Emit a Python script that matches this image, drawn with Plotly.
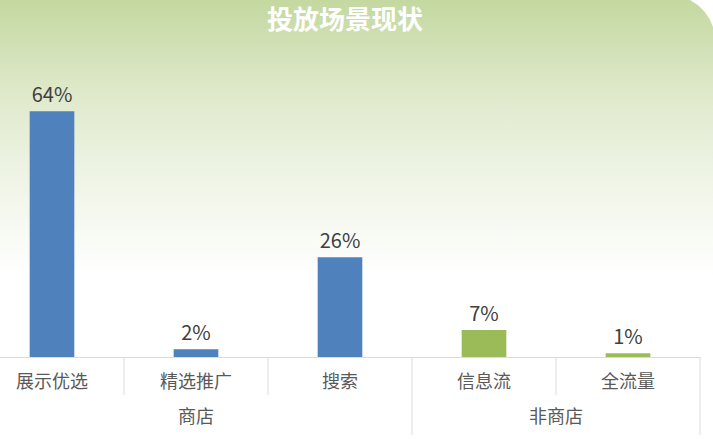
import base64
import plotly.graph_objects as go

# data
categories = ['展示优选', '精选推广', '搜索', '信息流', '全流量']
groups = ['商店', '商店', '商店', '非商店', '非商店']
shares = [64, 2, 26, 7, 1]
group_names = ['商店', '非商店']

colors = {'blue': '#4f81bd', 'green': '#9bbb59', 'label': '#404040',
          'tick': '#595959', 'grid': '#dcdcdc'}

W, H = 713, 445
margin = dict(l=0, r=12, t=60, b=88)
plot_w = W - margin['l'] - margin['r']
plot_h = H - margin['t'] - margin['b']

# background card: green gradient fading to white, rounded top-right corner
svg = f'''<svg xmlns="http://www.w3.org/2000/svg" width="{W}" height="{H}" viewBox="0 0 {W} {H}" preserveAspectRatio="none">
<defs><linearGradient id="g" x1="0" y1="0" x2="0" y2="1">
<stop offset="0" stop-color="#c4d8a0"/>
<stop offset="0.22" stop-color="#e0eacd"/>
<stop offset="0.40" stop-color="#eff4e6"/>
<stop offset="0.62" stop-color="#ffffff"/>
<stop offset="1" stop-color="#ffffff"/>
</linearGradient></defs>
<path d="M0,0 L690,0 Q707,9 713,27 L713,{H} L0,{H} Z" fill="url(#g)"/>
</svg>'''
bg_src = 'data:image/svg+xml;base64,' + base64.b64encode(svg.encode()).decode()

x_idx = list(range(len(categories)))
bar_colors = [colors['blue'] if g == '商店' else colors['green'] for g in groups]

fig = go.Figure()
fig.add_trace(go.Bar(
    x=x_idx, y=shares, width=0.31,
    marker=dict(color=bar_colors, line=dict(width=0)),
    text=[f'{v}%' for v in shares], textposition='outside', cliponaxis=False,
    textfont=dict(size=20, color=colors['label'], family='Noto Sans CJK SC'),
    hoverinfo='skip',
))

# category labels
for i, c in enumerate(categories):
    fig.add_annotation(x=i, y=-23 / plot_h, xref='x', yref='paper', text=c,
                       showarrow=False, yanchor='middle',
                       font=dict(size=18, color=colors['tick']))

# group labels
for g in group_names:
    idx = [i for i, gg in enumerate(groups) if gg == g]
    fig.add_annotation(x=(idx[0] + idx[-1]) / 2, y=-58 / plot_h, xref='x', yref='paper',
                       text=g, showarrow=False, yanchor='middle',
                       font=dict(size=18, color=colors['tick']))

# divider lines between categories / groups
for i in range(len(categories)):
    end_group = i == len(categories) - 1 or groups[i] != groups[i + 1]
    y_end = -78 / plot_h if end_group else -38 / plot_h
    fig.add_shape(type='line', xref='x', yref='paper', x0=i + 0.5, x1=i + 0.5,
                  y0=0, y1=y_end, line=dict(color=colors['grid'], width=1))

fig.add_layout_image(dict(
    source=bg_src, xref='paper', yref='paper',
    x=-margin['l'] / plot_w, y=1 + margin['t'] / plot_h,
    sizex=W / plot_w, sizey=H / plot_h, sizing='stretch', layer='below',
    xanchor='left', yanchor='top'))

fig.add_annotation(x=345 / plot_w, y=1 + 42 / plot_h, xref='paper', yref='paper',
                   text='<b>投放场景现状</b>', showarrow=False, yanchor='middle',
                   font=dict(size=26, color='white', family='Noto Sans CJK SC'))

fig.update_layout(
    width=W, height=H, margin=margin,
    paper_bgcolor='white', plot_bgcolor='rgba(0,0,0,0)',
    font=dict(family='Noto Sans CJK SC'),
    showlegend=False,
    xaxis=dict(range=[-52 / 144, (plot_w - 52) / 144], showticklabels=False,
               showgrid=False, zeroline=False, showline=True,
               linecolor=colors['grid'], linewidth=1, ticks=''),
    yaxis=dict(range=[0, plot_h / 3.84], visible=False, showgrid=False),
)

fig.write_html("out.html", config={'displayModeBar': False},
               post_script="document.body.style.margin='0';")
